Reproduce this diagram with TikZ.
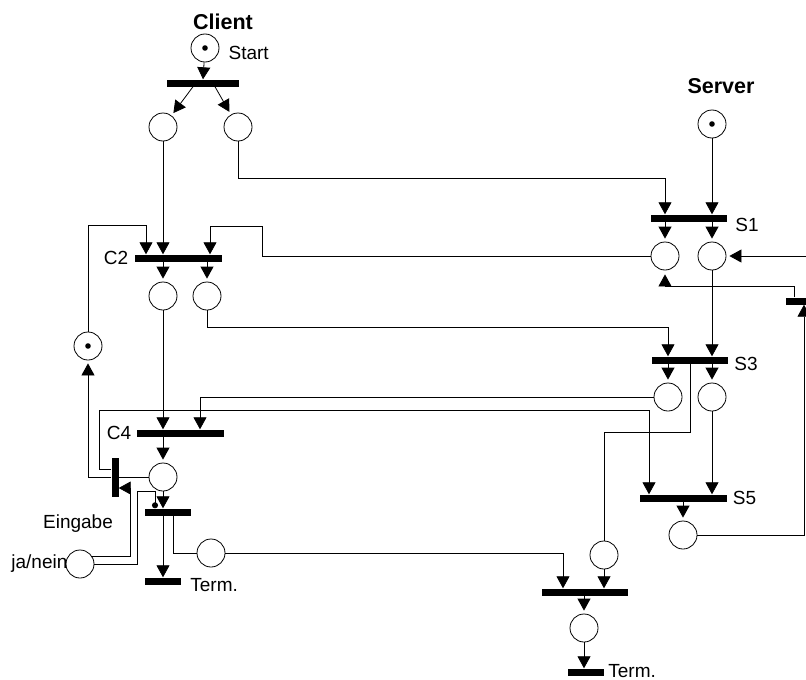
\documentclass[tikz,border=0pt]{standalone}
\usepackage{fontspec}
\setmainfont{Liberation Sans}
\usetikzlibrary{positioning,arrows.meta}

\tikzset{
  place/.style={circle,draw,line width=0.8pt,minimum size=28pt,inner sep=0pt},
  tokenplace/.style={place,path picture={\fill (path picture bounding box.center) circle (2.8pt);}},
  bar/.style={fill=black,inner sep=0pt,minimum height=7pt},
  vbar/.style={fill=black,inner sep=0pt,minimum width=7pt},
  wire/.style={line width=0.8pt},
  flow/.style={wire,-{Triangle[width=13pt,length=12pt]}},
  toplace/.style={flow,shorten >=3pt},
  lbl/.style={inner sep=1pt},
  heading/.style={font=\fontsize{21.5}{25}\selectfont\bfseries},
}

\begin{document}
\begin{tikzpicture}[x=1pt,y=-1pt,font=\fontsize{19}{22}\selectfont]
\useasboundingbox (0,0) rectangle (806,680);

% Client
\node[heading] (client) at (223,22) {Client};
\node[tokenplace] (start) at (205,48) {};
\node[lbl,right=8pt of start,yshift=-5pt] (startlbl) {Start};
\node[bar,minimum width=72pt] (t0) at (203,83) {};
\node[place] (p1) at (163,127) {};
\node[place] (p2) at (238,127) {};
\node[bar,minimum width=87pt] (c2) at (178,258) {};
\node[lbl,left=5pt of c2] (c2lbl) {C2};
\node[place] (p3) at (163,296) {};
\node[place] (p4) at (207,296) {};
\node[tokenplace] (pl) at (88,346) {};
\node[bar,minimum width=87pt] (c4) at (180,433) {};
\node[lbl,left=4pt of c4] (c4lbl) {C4};
\node[place] (p5) at (163,477) {};
\node[vbar,minimum height=39pt] (te) at (115,477) {};
\node[lbl] (eingabe) at (78,524) {Eingabe};
\node[place] (jn) at (80,564) {};
\node[lbl,left=-3pt of jn] (jnlbl) {ja/nein};
\node[bar,minimum width=46pt] (t6) at (168,512) {};
\node[bar,minimum width=36pt] (term1) at (163,581) {};
\node[lbl,right=8pt of term1,yshift=-4pt] (term1lbl) {Term.};
\node[place] (p7) at (211,553) {};

% Server
\node[heading] (server) at (721,86) {Server};
\node[tokenplace] (ps) at (712,124) {};
\node[bar,minimum width=76pt] (s1) at (689,218) {};
\node[lbl,right=7pt of s1,yshift=-7pt] (s1lbl) {S1};
\node[place] (pa) at (665,256) {};
\node[place] (pb) at (712,256) {};
\node[bar,minimum width=40pt] (tr) at (806,301) {};
\node[bar,minimum width=76pt] (s3) at (690,360) {};
\node[lbl,right=5pt of s3,yshift=-4pt] (s3lbl) {S3};
\node[place] (pc) at (668,397) {};
\node[place] (pd) at (712,397) {};
\node[bar,minimum width=87pt] (s5) at (683,498) {};
\node[lbl,right=5pt of s5] (s5lbl) {S5};
\node[place] (ps5) at (683,535) {};
\node[place] (pe) at (604,555) {};
\node[bar,minimum width=86pt] (tf) at (585,592) {};
\node[place] (p8) at (584,628) {};
\node[bar,minimum width=36pt] (term2) at (586,672) {};
\node[lbl,right=3pt of term2,yshift=1pt] (term2lbl) {Term.};
\coordinate (rin) at (830,256);

% Client arcs
\draw[flow] (start) -- (t0.north);
\draw[toplace] ([xshift=-10pt]t0.south) -- (p1);
\draw[toplace] ([xshift=12pt]t0.south) -- (p2);
\draw[flow] (p1) -- (c2.north -| p1);
\draw[flow] (pl) |- (146,225) -- ([xshift=-32pt]c2.north);
\draw[toplace] (c2.south -| p3) -- (p3);
\draw[toplace] (c2.south -| p4) -- (p4);
\draw[flow] (p3) -- (c4.north -| p3);
\draw[toplace] (c4.south -| p5) -- (p5);
\draw[wire] (p5) -- (te);
\draw[toplace] (te.west) -| (pl);
\draw[flow] ([yshift=8pt]te.west) -| (99,410) -| ([xshift=-34pt]s5.north);
\draw[flow] (jn.30) -| (130,488) -- ([yshift=-11pt]te.east);
\draw[wire,-{Circle[length=6pt]}] (jn.east) -| (137,491) -| ([xshift=-13pt]t6.north);
\draw[flow] (p5) -- (t6.north -| p5);
\draw[flow] (t6.south -| p5) -- (term1.north);
\draw[wire] ([xshift=5pt]t6.south) |- (p7);

% Server arcs
\draw[flow] (ps) -- (s1.north -| ps);
\draw[flow] (p2) -- ++(0,51) -| (s1.north -| pa);
\draw[toplace] (s1.south -| pa) -- (pa);
\draw[toplace] (s1.south -| pb) -- (pb);
\draw[toplace] (rin) -- (pb);
\draw[flow] (pa) -| (262,226) -| ([xshift=32pt]c2.north);
\draw[toplace,shorten >=4pt] ([xshift=-12pt]tr.north) -- ++(0,-11) -| (pa);
\draw[flow] (p4) -- ++(0,31) -| (s3.north -| pc);
\draw[flow] (pb) -- (s3.north -| pb);
\draw[toplace] (s3.south -| pc) -- (pc);
\draw[toplace] (s3.south -| pd) -- (pd);
\draw[wire] (s3.south) -- ++(0,69) -| (pe);
\draw[flow] (pc) -| ([xshift=20pt]c4.north);
\draw[flow] (pd) -- (s5.north -| pd);
\draw[toplace] (s5.south -| ps5) -- (ps5);
\draw[flow] (ps5) -| ([xshift=-2pt]tr.south);
\draw[flow] (p7) -| ([xshift=-22pt]tf.north);
\draw[flow] (pe) -- (tf.north -| pe);
\draw[toplace] (tf.south -| p8) -- (p8);
\draw[flow] (p8) -- (term2.north -| p8);

\end{tikzpicture}
\end{document}
